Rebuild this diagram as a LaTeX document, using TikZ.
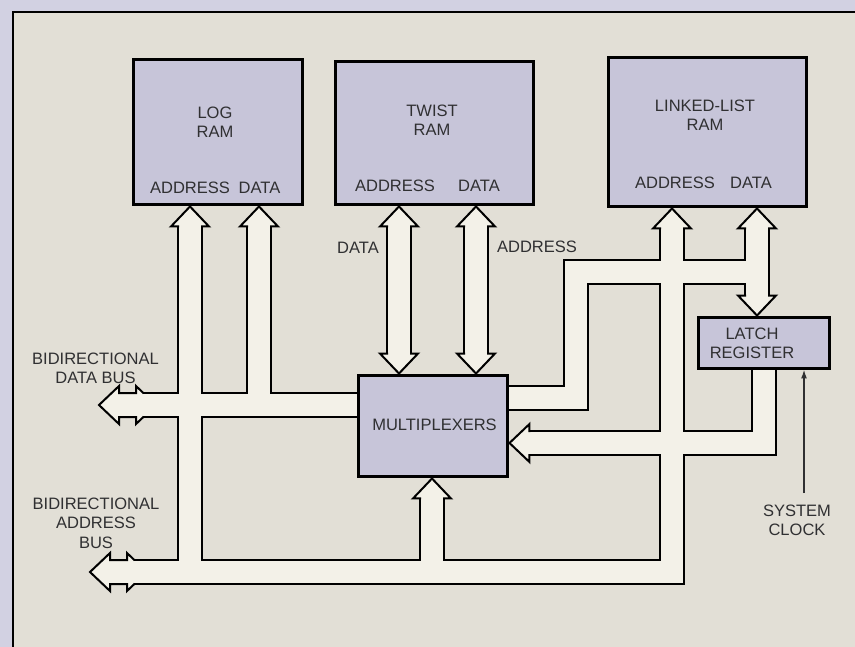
\documentclass[tikz,border=0pt]{standalone}
\usepackage{fontspec}
\setmainfont{Liberation Sans}
\usetikzlibrary{arrows.meta,positioning,calc}
\definecolor{pageLilac}{RGB}{210,209,226}
\definecolor{panelBeige}{RGB}{226,223,214}
\definecolor{boxLilac}{RGB}{199,197,217}
\definecolor{busCream}{RGB}{243,241,232}
\definecolor{inkGray}{RGB}{48,48,50}
\pgfdeclarelayer{panel}
\pgfdeclarelayer{wires}
\pgfsetlayers{panel,wires,main}
\newcommand{\bushead}[2]{\filldraw[headline,shift={(#1)},rotate=#2] (-11,20) -- (-19,20) -- (0,0) -- (19,20) -- (11,20);}
\newcommand{\sidebus}[1]{\filldraw[headline,shift={(#1)}] (-28.5,0) -- (-8.5,-19) -- (-8.5,-12) -- (8.5,-12) -- (8.5,-19) -- (28.5,0) -- (8.5,19) -- (8.5,12) -- (-8.5,12) -- (-8.5,19) -- cycle;}

\begin{document}
\begin{tikzpicture}[x=0.02cm,y=-0.02cm,
    box/.style={draw=black,line width=0.06cm,fill=boxLilac,inner sep=0pt},
    lbl/.style={font=\fontsize{9.4}{11}\selectfont,text=inkGray,align=center,inner sep=0pt},
    bus/.style={draw=black,line width=0.04cm,double=busCream,double distance=0.44cm,line join=miter},
    headline/.style={draw=black,line width=0.04cm,fill=busCream,line join=miter},
    clkline/.style={draw=inkGray,line width=0.03cm,-{Latex[length=1.8mm,width=1.2mm]}}
  ]
  \useasboundingbox (0,0) rectangle (855,646);
  \begin{pgfonlayer}{panel}
    \fill[pageLilac] (-5,-5) rectangle (860,651);
    \fill[panelBeige] (13,12) rectangle (860,651);
    \draw[line width=0.04cm] (13,651) -- (13,12) -- (860,12);
  \end{pgfonlayer}

  \node[box,minimum width=3.4cm,minimum height=2.92cm] (log) at (218,132) {};
  \node[box,minimum width=3.98cm,minimum height=2.88cm] (twist) at (434.5,133) {};
  \node[box,minimum width=3.98cm,minimum height=3cm] (llist) at (707.5,132) {};
  \node[box,minimum width=3cm,minimum height=2.04cm] (mux) at (433,426) {};
  \node[box,minimum width=2.64cm,minimum height=1.02cm] (latch) at (764,342.5) {};

  \node[lbl] (logTitle) at (215,122.5) {LOG\\RAM};
  \node[lbl] (logAddrTxt) at (190,188) {ADDRESS};
  \node[lbl] (logDataTxt) at (259.5,188) {DATA};
  \node[lbl] (twTitle) at (432,120) {TWIST\\RAM};
  \node[lbl] (twAddrTxt) at (395,186) {ADDRESS};
  \node[lbl] (twDataTxt) at (479,186) {DATA};
  \node[lbl] (llTitle) at (705,115) {LINKED-LIST\\RAM};
  \node[lbl] (llAddrTxt) at (675,183) {ADDRESS};
  \node[lbl] (llDataTxt) at (751,183) {DATA};
  \node[lbl] (muxTxt) at (434.5,425) {MULTIPLEXERS};
  \node[lbl] (latchTxt) at (752,343) {LATCH\\REGISTER};
  \node[lbl] (dataLbl) at (358,248) {DATA};
  \node[lbl] (addrLbl) at (537,247) {ADDRESS};
  \node[lbl] (dataBusLbl) at (95.5,368.5) {BIDIRECTIONAL\\DATA BUS};
  \node[lbl] (addrBusLbl) at (96,523) {BIDIRECTIONAL\\ADDRESS\\BUS};
  \node[lbl] (clk) at (797,520.5) {SYSTEM\\CLOCK};

  \coordinate (logA) at (log.south -| 190,0);
  \coordinate (logD) at (log.south -| 259,0);
  \coordinate (twA) at (twist.south -| 399,0);
  \coordinate (twD) at (twist.south -| 476,0);
  \coordinate (muxA) at (mux.north -| twA);
  \coordinate (muxD) at (mux.north -| twD);
  \coordinate (llA) at (llist.south -| 672,0);
  \coordinate (llD) at (llist.south -| 757,0);
  \coordinate (latchIn) at (latch.north -| llD);
  \coordinate (muxLow) at (mux.south -| 432,0);
  \coordinate (muxRight) at (mux.east |- 0,443);
  \coordinate (dataPort) at (127.5,405);
  \coordinate (addrPort) at (118.5,572);
  \coordinate (clkFoot) at (804,493);

  \begin{pgfonlayer}{wires}
    \sidebus{dataPort}
    \sidebus{addrPort}
    \draw[bus]
      ([xshift=3.1mm]addrPort) -- (addrPort -| llA) -- ([yshift=-4mm]llA)
      (addrPort -| logA) -- ([yshift=-4mm]logA)
      (addrPort -| muxLow) -- ([yshift=-4mm]muxLow)
      ([xshift=3.1mm]dataPort) -- (dataPort -| mux.center)
      (dataPort -| logD) -- ([yshift=-4mm]logD)
      (mux.center |- 0,398) -| (576,272) -- (llD |- 0,272)
      ([yshift=-4mm]llD) -- ([yshift=4mm]latchIn)
      (latch.center) |- ([xshift=4mm]muxRight);
    \draw[bus] ([yshift=-4mm]twA) -- ([yshift=4mm]muxA);
    \draw[bus] ([yshift=-4mm]twD) -- ([yshift=4mm]muxD);
    \bushead{logA}{0}
    \bushead{logD}{0}
    \bushead{twA}{0}
    \bushead{twD}{0}
    \bushead{muxA}{180}
    \bushead{muxD}{180}
    \bushead{llA}{0}
    \bushead{llD}{0}
    \bushead{latchIn}{180}
    \bushead{muxLow}{0}
    \bushead{muxRight}{90}
  \end{pgfonlayer}

  \draw[clkline] (clkFoot) -- (clkFoot |- latch.south);
\end{tikzpicture}
\end{document}
